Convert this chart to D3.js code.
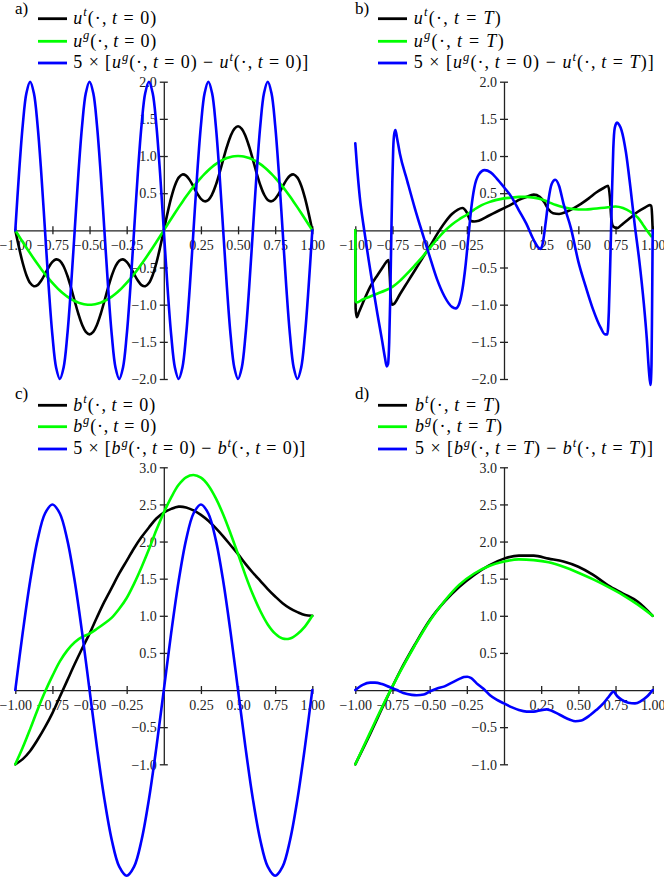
<!DOCTYPE html>
<html><head><meta charset="utf-8">
<script src="https://cdn.jsdelivr.net/npm/d3@7"></script>
<style>body{margin:0;background:#fff}svg{display:block}text{white-space:pre}</style>
</head><body>
<svg id="chart" width="664" height="879"></svg>
<script>
// ---------------- data ----------------
const X_TICKS = [-1, -0.75, -0.5, -0.25, 0.25, 0.5, 0.75, 1];
const Y_TICKS_AB = [-2, -1.5, -1, -0.5, 0.5, 1, 1.5, 2];
const Y_TICKS_CD = [-1, -0.5, 0.5, 1, 1.5, 2, 2.5, 3];

// panel a : x grid
const X_A = [-1,-0.975,-0.95,-0.925,-0.9,-0.875,-0.85,-0.825,-0.8,-0.775,-0.75,-0.725,-0.7,-0.675,-0.65,-0.625,-0.6,-0.575,-0.55,-0.525,-0.5,-0.475,-0.45,-0.425,-0.4,-0.375,-0.35,-0.325,-0.3,-0.275,-0.25,-0.225,-0.2,-0.175,-0.15,-0.125,-0.1,-0.075,-0.05,-0.025,0,0.025,0.05,0.075,0.1,0.125,0.15,0.175,0.2,0.225,0.25,0.275,0.3,0.325,0.35,0.375,0.4,0.425,0.45,0.475,0.5,0.525,0.55,0.575,0.6,0.625,0.65,0.675,0.7,0.725,0.75,0.775,0.8,0.825,0.85,0.875,0.9,0.925,0.95,0.975,1];
const UT_A = [0,-0.2316,-0.4392,-0.6030,-0.7090,-0.7523,-0.7368,-0.6756,-0.5878,-0.4963,-0.4243,-0.3908,-0.4090,-0.4830,-0.6082,-0.7708,-0.9511,-1.1255,-1.2705,-1.3665,-1.4,-1.3665,-1.2705,-1.1255,-0.9511,-0.7708,-0.6082,-0.4830,-0.4090,-0.3908,-0.4243,-0.4963,-0.5878,-0.6756,-0.7368,-0.7523,-0.7090,-0.6030,-0.4392,-0.2316,
  0,0.2316,0.4392,0.6030,0.7090,0.7523,0.7368,0.6756,0.5878,0.4963,0.4243,0.3908,0.4090,0.4830,0.6082,0.7708,0.9511,1.1255,1.2705,1.3665,1.4,1.3665,1.2705,1.1255,0.9511,0.7708,0.6082,0.4830,0.4090,0.3908,0.4243,0.4963,0.5878,0.6756,0.7368,0.7523,0.7090,0.6030,0.4392,0.2316,0];
const UG_A = [0,-0.0785,-0.1564,-0.2334,-0.3090,-0.3827,-0.4540,-0.5225,-0.5878,-0.6494,-0.7071,-0.7604,-0.8090,-0.8526,-0.8910,-0.9239,-0.9511,-0.9724,-0.9877,-0.9969,-1,-0.9969,-0.9877,-0.9724,-0.9511,-0.9239,-0.8910,-0.8526,-0.8090,-0.7604,-0.7071,-0.6494,-0.5878,-0.5225,-0.4540,-0.3827,-0.3090,-0.2334,-0.1564,-0.0785,
  0,0.0785,0.1564,0.2334,0.3090,0.3827,0.4540,0.5225,0.5878,0.6494,0.7071,0.7604,0.8090,0.8526,0.8910,0.9239,0.9511,0.9724,0.9877,0.9969,1,0.9969,0.9877,0.9724,0.9511,0.9239,0.8910,0.8526,0.8090,0.7604,0.7071,0.6494,0.5878,0.5225,0.4540,0.3827,0.3090,0.2334,0.1564,0.0785,0];
const D_A = [0,0.765,1.414,1.848,2,1.848,1.414,0.765,0,-0.765,-1.414,-1.848,-2,-1.848,-1.414,-0.765,0,0.765,1.414,1.848,2,1.848,1.414,0.765,0,-0.765,-1.414,-1.848,-2,-1.848,-1.414,-0.765,0,0.765,1.414,1.848,2,1.848,1.414,0.765,
  0,-0.765,-1.414,-1.848,-2,-1.848,-1.414,-0.765,0,0.765,1.414,1.848,2,1.848,1.414,0.765,0,-0.765,-1.414,-1.848,-2,-1.848,-1.414,-0.765,0,0.765,1.414,1.848,2,1.848,1.414,0.765,0,-0.765,-1.414,-1.848,-2,-1.848,-1.414,-0.765,0];

// panel b
const X_BT = [-1.000,-0.998,-0.990,-0.975,-0.95,-0.90,-0.85,-0.81,-0.79,-0.776,-0.768,-0.760,-0.752,-0.74,-0.70,-0.65,-0.60,-0.55,-0.50,-0.45,-0.40,-0.35,-0.31,-0.28,-0.25,-0.225,-0.20,-0.17,-0.10,-0.05,0.00,0.05,0.10,0.15,0.20,0.24,0.27,0.30,0.33,0.37,0.42,0.47,0.52,0.57,0.62,0.67,0.70,0.712,0.722,0.735,0.76,0.80,0.85,0.90,0.95,0.98,0.99,0.996,1.000];
const UT_B = [0.00,-1.05,-1.17,-1.10,-0.98,-0.76,-0.60,-0.48,-0.42,-0.40,-0.62,-0.95,-1.00,-0.99,-0.86,-0.70,-0.54,-0.38,-0.22,-0.05,0.10,0.22,0.28,0.30,0.24,0.13,0.12,0.13,0.20,0.25,0.30,0.35,0.41,0.45,0.48,0.45,0.38,0.28,0.23,0.22,0.25,0.30,0.36,0.43,0.51,0.57,0.60,0.45,0.15,0.05,0.03,0.09,0.17,0.25,0.31,0.34,0.33,0.20,0.00];
const X_BG = [-1.000,-0.998,-0.99,-0.95,-0.90,-0.85,-0.80,-0.75,-0.70,-0.65,-0.60,-0.55,-0.50,-0.45,-0.40,-0.35,-0.30,-0.25,-0.20,-0.15,-0.10,-0.05,0.00,0.05,0.10,0.15,0.20,0.25,0.30,0.35,0.40,0.45,0.50,0.55,0.60,0.65,0.70,0.75,0.80,0.85,0.90,0.93,0.96,0.99];
const UG_B = [0,-0.95,-0.97,-0.93,-0.89,-0.85,-0.81,-0.76,-0.68,-0.58,-0.47,-0.36,-0.24,-0.12,-0.01,0.08,0.15,0.21,0.28,0.34,0.38,0.41,0.43,0.44,0.45,0.45,0.44,0.42,0.38,0.34,0.31,0.29,0.28,0.28,0.29,0.30,0.31,0.32,0.30,0.25,0.17,0.09,0.00,-0.08];
const X_BD = [-1.000,-0.99,-0.97,-0.94,-0.91,-0.88,-0.85,-0.82,-0.80,-0.789,-0.780,-0.772,-0.765,-0.758,-0.751,-0.745,-0.738,-0.730,-0.72,-0.70,-0.65,-0.60,-0.55,-0.50,-0.45,-0.40,-0.35,-0.325,-0.30,-0.28,-0.26,-0.24,-0.22,-0.20,-0.17,-0.13,-0.09,-0.05,0.00,0.05,0.10,0.15,0.20,0.23,0.245,0.26,0.28,0.30,0.32,0.345,0.37,0.40,0.45,0.50,0.55,0.60,0.65,0.68,0.695,0.705,0.715,0.725,0.735,0.745,0.76,0.775,0.79,0.82,0.85,0.88,0.91,0.94,0.96,0.975,0.985,0.992,0.996,1.000];
const D_B = [1.17,0.90,0.45,0.00,-0.40,-0.78,-1.14,-1.48,-1.72,-1.83,-1.80,-1.50,-0.90,-0.10,0.65,1.10,1.30,1.35,1.25,1.03,0.66,0.30,-0.03,-0.35,-0.66,-0.89,-1.03,-1.05,-0.98,-0.80,-0.50,-0.10,0.30,0.57,0.75,0.81,0.78,0.70,0.58,0.45,0.27,0.09,-0.13,-0.23,-0.25,-0.18,0.10,0.42,0.62,0.68,0.60,0.36,0.03,-0.42,-0.76,-1.07,-1.31,-1.40,-1.40,-1.10,-0.40,0.40,1.10,1.38,1.45,1.42,1.35,1.05,0.58,0.06,-0.41,-0.98,-1.45,-1.90,-2.08,-1.80,-1.00,0.00];

// panel c
const X_C = [-1,-0.95,-0.9,-0.85,-0.8,-0.75,-0.7,-0.65,-0.6,-0.55,-0.5,-0.45,-0.4,-0.35,-0.3,-0.25,-0.2,-0.15,-0.1,-0.05,0,0.05,0.1,0.15,0.2,0.25,0.3,0.35,0.4,0.45,0.5,0.55,0.6,0.65,0.7,0.75,0.8,0.85,0.9,0.95,1];
const BT_C = [-1.00,-0.93,-0.82,-0.67,-0.50,-0.31,-0.09,0.13,0.35,0.56,0.76,0.98,1.19,1.38,1.57,1.74,1.91,2.06,2.19,2.31,2.39,2.44,2.47,2.46,2.42,2.36,2.28,2.18,2.07,1.95,1.83,1.70,1.58,1.47,1.36,1.26,1.17,1.10,1.05,1.01,1.00];
const BG_C = [-1.00,-0.775,-0.526,-0.265,-0.024,0.19,0.386,0.535,0.644,0.715,0.76,0.825,0.896,0.975,1.094,1.24,1.434,1.655,1.896,2.155,2.39,2.595,2.764,2.865,2.896,2.86,2.756,2.585,2.364,2.105,1.83,1.545,1.286,1.065,0.884,0.76,0.694,0.695,0.756,0.855,1.00];
const D_C = [0,0.773,1.469,2.023,2.378,2.5,2.378,2.023,1.469,0.773,0,-0.773,-1.469,-2.023,-2.378,-2.5,-2.378,-2.023,-1.469,-0.773,0,0.773,1.469,2.023,2.378,2.5,2.378,2.023,1.469,0.773,0,-0.773,-1.469,-2.023,-2.378,-2.5,-2.378,-2.023,-1.469,-0.773,0];

// panel d
const X_D = [-1,-0.9,-0.8,-0.7,-0.6,-0.5,-0.4,-0.3,-0.2,-0.1,0,0.1,0.2,0.3,0.4,0.5,0.6,0.7,0.8,0.9,1];
const BT_D = [-1.00,-0.59,-0.16,0.25,0.61,0.94,1.19,1.39,1.55,1.68,1.77,1.81,1.81,1.77,1.73,1.66,1.55,1.41,1.30,1.19,1.00];
const BG_D = [-1.00,-0.57,-0.15,0.24,0.60,0.93,1.20,1.42,1.57,1.67,1.73,1.76,1.75,1.72,1.66,1.58,1.49,1.39,1.28,1.15,1.00];
const X_DD = [-1,-0.95,-0.9,-0.868,-0.82,-0.77,-0.72,-0.677,-0.62,-0.587,-0.54,-0.5,-0.45,-0.4,-0.35,-0.3,-0.27,-0.247,-0.22,-0.184,-0.14,-0.094,-0.05,0,0.05,0.1,0.152,0.2,0.25,0.287,0.32,0.354,0.4,0.444,0.48,0.52,0.578,0.62,0.668,0.70,0.724,0.735,0.76,0.79,0.836,0.881,0.92,0.96,1.0];
const D_D = [0,0.07,0.10,0.10,0.08,0.04,0.0,-0.04,-0.065,-0.07,-0.06,-0.02,0.02,0.05,0.10,0.15,0.175,0.18,0.16,0.09,0.02,-0.07,-0.13,-0.18,-0.23,-0.27,-0.29,-0.29,-0.27,-0.26,-0.28,-0.31,-0.36,-0.40,-0.42,-0.41,-0.34,-0.27,-0.18,-0.10,-0.04,-0.02,-0.08,-0.13,-0.17,-0.18,-0.15,-0.09,0.0];

// legend texts
const fnSeg = (b, s, arg) => [{t:b,i:1},{t:s,i:1,sup:1},{t:"(·,\u2009"},{t:"t",i:1},{t:" = "},{t:arg,i:arg==="T"},{t:")"}];
const LEG_A = [fnSeg("u","t","0"), fnSeg("u","g","0"), [{t:"5 × ["}, ...fnSeg("u","g","0"), {t:" − "}, ...fnSeg("u","t","0"), {t:"]"}]];
const LEG_B = [fnSeg("u","t","T"), fnSeg("u","g","T"), [{t:"5 × ["}, ...fnSeg("u","g","0"), {t:" − "}, ...fnSeg("u","t","T"), {t:"]"}]];
const LEG_C = [fnSeg("b","t","0"), fnSeg("b","g","0"), [{t:"5 × ["}, ...fnSeg("b","g","0"), {t:" − "}, ...fnSeg("b","t","0"), {t:"]"}]];
const LEG_D = [fnSeg("b","t","T"), fnSeg("b","g","T"), [{t:"5 × ["}, ...fnSeg("b","g","T"), {t:" − "}, ...fnSeg("b","t","T"), {t:"]"}]];

// ---------------- drawing ----------------
const FONT = "'Liberation Serif','Times New Roman',serif";
const COL = ["#000000", "#00ff00", "#0000ff"];
const svg = d3.select("#chart");
svg.append("rect").attr("width",664).attr("height",879).attr("fill","#fff");

const panels = [
  {name:"a)", xr:[15.3,312.3], yd:[-2,2], yr:[379,81.7], yt:Y_TICKS_AB,
   series:[[X_A,UT_A],[X_A,UG_A],[X_A,D_A]], curve:d3.curveCatmullRom.alpha(0.5),
   lx:15, ly:14, lineX:38, textX:73.3, rows:[18.7,41.3,63], leg:LEG_A, legW:[83,83,235]},
  {name:"b)", xr:[355.3,652.7], yd:[-2,2], yr:[379,81.7], yt:Y_TICKS_AB,
   series:[[X_BT,UT_B],[X_BG,UG_B],[X_BD,D_B]], curve:d3.curveMonotoneX,
   lx:355, ly:14, lineX:378, textX:413.7, rows:[18.7,41.3,63], leg:LEG_B, legW:[87,90,240]},
  {name:"c)", xr:[15.3,312.3], yd:[-1,3], yr:[764.3,467.3], yt:Y_TICKS_CD,
   series:[[X_C,BT_C],[X_C,BG_C],[X_C,D_C]], curve:d3.curveCatmullRom.alpha(0.5),
   lx:15, ly:398.5, lineX:38, textX:73.3, rows:[405.3,426.7,449], leg:LEG_C, legW:[82,83,232]},
  {name:"d)", xr:[355.3,652.7], yd:[-1,3], yr:[764.3,467.3], yt:Y_TICKS_CD,
   series:[[X_D,BT_D],[X_D,BG_D],[X_DD,D_D]], curve:d3.curveMonotoneX,
   lx:355, ly:398.5, lineX:378, textX:415, rows:[405.3,426.7,449], leg:LEG_D, legW:[85,87,238]}
];

function mathText(g, x, y, segs, fs, w) {
  const t = g.append("text").attr("x", x).attr("y", y)
    .attr("font-family", FONT).attr("font-size", fs).attr("fill", "#000");
  let shifted = false;
  segs.forEach(s => {
    const ts = t.append("tspan").text(s.t);
    if (s.i) ts.attr("font-style", "italic");
    if (s.sup) ts.attr("font-size", fs * 0.7);
    if (s.sup && !shifted) { ts.attr("dy", -0.42 * fs); shifted = true; }
    else if (!s.sup && shifted) { ts.attr("dy", 0.42 * fs); shifted = false; }
  });
  if (w) t.attr("textLength", w).attr("lengthAdjust", "spacing");
  return t;
}

panels.forEach(p => {
  const g = svg.append("g");
  const x = d3.scaleLinear().domain([-1, 1]).range(p.xr);
  const y = d3.scaleLinear().domain(p.yd).range(p.yr);

  // x axis
  const gx = g.append("g").attr("transform", `translate(0,${y(0)})`)
    .call(d3.axisBottom(x).tickValues(X_TICKS).tickFormat(d3.format(".2f")).tickSizeInner(4).tickSizeOuter(0));
  gx.attr("font-family", FONT).attr("font-size", 14);
  gx.select(".domain").attr("stroke", "#222").attr("stroke-width", 1.3);
  gx.selectAll(".tick line").attr("y1", -4).attr("y2", 4).attr("stroke", "#222").attr("stroke-width", 1.3);
  gx.selectAll(".tick text").attr("y", 19.5).attr("dy", 0).attr("fill", "#222");

  // y axis
  const gy = g.append("g").attr("transform", `translate(${x(0)},0)`)
    .call(d3.axisLeft(y).tickValues(p.yt).tickFormat(d3.format(".1f")).tickSizeInner(4).tickSizeOuter(0));
  gy.attr("font-family", FONT).attr("font-size", 14);
  gy.select(".domain").attr("stroke", "#222").attr("stroke-width", 1.3);
  gy.selectAll(".tick line").attr("x1", 4).attr("x2", -4).attr("stroke", "#222").attr("stroke-width", 1.3);
  gy.selectAll(".tick text").attr("x", -7).attr("dy", "0.34em").attr("fill", "#222");

  // curves
  const line = d3.line().x(d => x(d[0])).y(d => y(d[1])).curve(p.curve);
  p.series.forEach((s, i) => {
    g.append("path").datum(d3.zip(s[0], s[1])).attr("d", line)
      .attr("fill", "none").attr("stroke", COL[i]).attr("stroke-width", 2.6)
      .attr("stroke-linejoin", "round").attr("stroke-linecap", "round");
  });

  // legend
  g.append("text").attr("x", p.lx).attr("y", p.ly).attr("font-family", FONT)
    .attr("font-size", 17).attr("fill", "#000").text(p.name);
  p.rows.forEach((ry, i) => {
    g.append("line").attr("x1", p.lineX).attr("x2", p.lineX + 29).attr("y1", ry).attr("y2", ry)
      .attr("stroke", COL[i]).attr("stroke-width", 2.8);
    mathText(g, p.textX, ry + 5.3, p.leg[i], 18, p.legW[i]);
  });
});
</script>
</body></html>
